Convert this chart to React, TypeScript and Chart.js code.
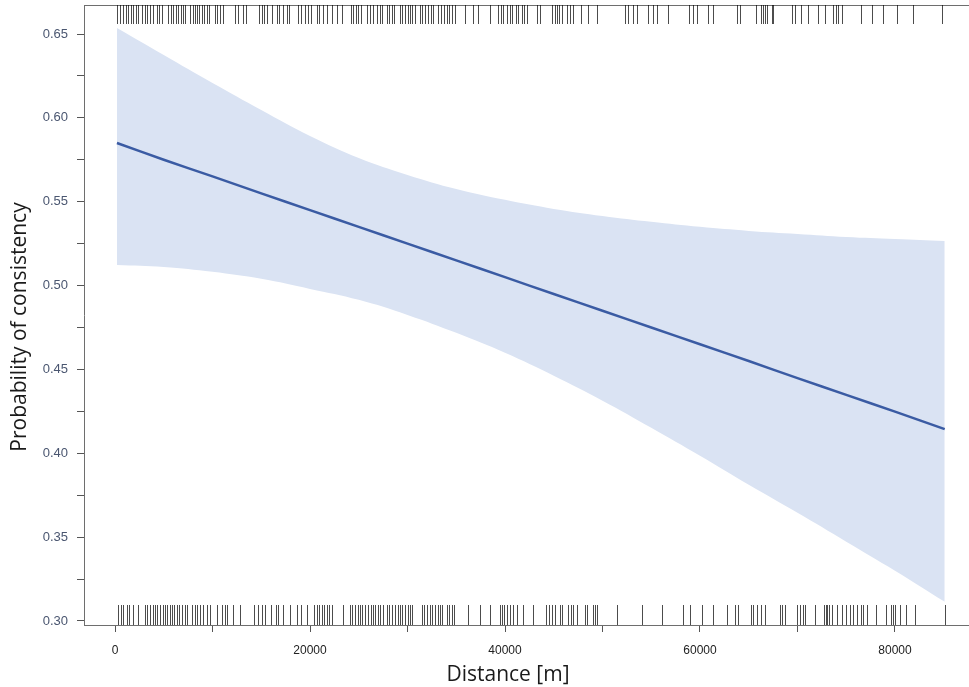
import React, { useEffect, useRef } from "react";
import { Chart, registerables } from "chart.js";

Chart.register(...registerables);

// Distance grid (m) and fitted probability with confidence band
const distances = [200, 5000, 10000, 15000, 20000, 25000, 30000, 35000, 40000, 45000, 50000, 55000, 60000, 65000, 70000, 75000, 80000, 85100];
const fitValues = [0.585, 0.575, 0.5651, 0.555, 0.545, 0.535, 0.525, 0.515, 0.505, 0.495, 0.485, 0.475, 0.465, 0.455, 0.4448, 0.4348, 0.4248, 0.4144];
const upperValues = [0.6536, 0.6375, 0.6208, 0.6047, 0.5892, 0.5761, 0.566, 0.5576, 0.5511, 0.5457, 0.5415, 0.538, 0.535, 0.5326, 0.5308, 0.529, 0.5278, 0.5266];
const lowerValues = [0.5123, 0.5111, 0.5082, 0.504, 0.498, 0.4915, 0.4825, 0.4718, 0.4599, 0.4462, 0.4313, 0.4152, 0.3985, 0.3812, 0.3645, 0.3473, 0.33, 0.3115];

// Rug observations (m): consistent (top) and inconsistent (bottom)
const rugTop = [236, 513, 790, 1128, 1364, 1610, 1877, 2154, 2390, 2738, 3077, 3313, 3590, 3928, 4277, 4544, 4790, 5467, 5713, 5979, 6256, 6492, 6769, 7005, 7179, 7692, 7969, 8205, 8441, 8646, 8892, 9128, 9405, 9672, 10256, 10492, 10769, 11046, 12308, 12646, 13159, 13436, 14800, 15046, 15282, 15559, 16072, 16585, 16851, 17262, 17610, 17877, 18800, 19046, 19487, 19826, 20072, 20687, 20954, 21364, 21713, 22287, 22738, 23251, 24205, 24441, 24687, 24954, 25230, 25815, 26154, 26492, 26841, 27179, 27415, 27867, 28102, 28379, 28646, 29231, 29467, 29744, 30021, 30256, 30492, 30769, 31282, 31518, 31795, 32072, 32410, 32646, 33159, 33436, 33774, 34021, 34256, 34533, 34872, 35897, 36749, 37262, 38462, 39313, 39590, 39826, 40174, 40513, 40749, 41097, 41364, 41713, 41949, 42226, 43251, 43590, 44790, 45128, 45303, 45569, 45815, 46328, 46667, 46944, 47795, 48544, 49405, 52307, 52646, 53097, 53569, 54697, 55148, 55559, 56749, 58903, 59313, 59662, 60851, 61364, 63764, 64103, 65744, 66226, 66431, 66667, 66903, 67354, 67518, 69405, 69744, 70328, 71108, 72133, 72820, 73672, 73949, 74185, 74533, 76482, 77610, 78738, 80236, 81815, 84790];
const rugBottom = [338, 585, 851, 1200, 1467, 1877, 2390, 3077, 3251, 3590, 3867, 4103, 4339, 4615, 4892, 5128, 5364, 5641, 5815, 6051, 6328, 6595, 6841, 7179, 7415, 7867, 8205, 8441, 8718, 9056, 9405, 9744, 10431, 10944, 11282, 11518, 12072, 12821, 14256, 14703, 15046, 15385, 15969, 16513, 16749, 17262, 17949, 18636, 19046, 19662, 20410, 20687, 20954, 21200, 21436, 21713, 21949, 22226, 23415, 24103, 24338, 24615, 24892, 25128, 25364, 25641, 25918, 26256, 26492, 26667, 26944, 27179, 27518, 27867, 28103, 28379, 28718, 28995, 29231, 29467, 29744, 30021, 30256, 30492, 31456, 31723, 31969, 32308, 32544, 32820, 33097, 33333, 33569, 34021, 34256, 34533, 34800, 36236, 37436, 38462, 39487, 39661, 39897, 40174, 40513, 40851, 41200, 41805, 42900, 44205, 44547, 44790, 45128, 45641, 45815, 46497, 46738, 46944, 47418, 48205, 48376, 48991, 49231, 49405, 51456, 54021, 56072, 58290, 58974, 60174, 61364, 62735, 63590, 63928, 65197, 65470, 65880, 66226, 66667, 68205, 68376, 68718, 69985, 70256, 70598, 70769, 71795, 72718, 72923, 73059, 73264, 73505, 74085, 74533, 74974, 75385, 75726, 76136, 76482, 76756, 77167, 78059, 79085, 79567, 79772, 80000, 80513, 81128, 82051, 85128];

const xTicks = [0, 10000, 20000, 30000, 40000, 50000, 60000, 70000, 80000];
const yTicks = [0.3, 0.325, 0.35, 0.375, 0.4, 0.425, 0.45, 0.475, 0.5, 0.525, 0.55, 0.575, 0.6, 0.625, 0.65];

const xTitle = "Distance [m]";
const yTitle = "Probability of consistency";

const rugPlugin = {
  id: "rugFrame",
  afterDatasetsDraw(chart: any) {
    const { ctx, chartArea, scales } = chart;
    const xs = scales.x;
    ctx.save();
    // top frame line
    ctx.strokeStyle = "#6e6e6e";
    ctx.lineWidth = 1;
    ctx.beginPath();
    ctx.moveTo(chartArea.left, chartArea.top + 0.5);
    ctx.lineTo(chartArea.right, chartArea.top + 0.5);
    ctx.stroke();
    // rugs
    ctx.strokeStyle = "rgba(0,0,0,0.7)";
    ctx.lineWidth = 1;
    const drawRug = (vals: number[], y0: number, y1: number) => {
      for (const v of vals) {
        const px = Math.round(xs.getPixelForValue(v)) + 0.5;
        ctx.beginPath();
        ctx.moveTo(px, y0);
        ctx.lineTo(px, y1);
        ctx.stroke();
      }
    };
    drawRug(rugTop, chartArea.top, chartArea.top + 19);
    drawRug(rugBottom, chartArea.bottom - 20, chartArea.bottom);
    ctx.restore();
  },
  afterDraw(chart: any) {
    const { ctx, chartArea } = chart;
    ctx.save();
    ctx.fillStyle = "#1a1a1a";
    ctx.textAlign = "center";
    ctx.textBaseline = "middle";
    ctx.font = "21px 'Open Sans', 'Noto Sans', sans-serif";
    // x-axis title
    ctx.fillText(xTitle, chartArea.left + 424, chartArea.bottom + 50);
    // y-axis title
    ctx.translate(chartArea.left - 64, chartArea.top + 322);
    ctx.rotate(-Math.PI / 2);
    ctx.fillText(yTitle, 0, 0);
    ctx.restore();
  },
};

export default function App() {
  const ref = useRef<HTMLCanvasElement | null>(null);

  useEffect(() => {
    document.body.style.margin = "0";
    const canvas = ref.current;
    if (!canvas) return;
    const toPts = (ys: number[]) => distances.map((d, i) => ({ x: d, y: ys[i] }));
    const chart = new Chart(canvas, {
      type: "line",
      data: {
        datasets: [
          {
            label: "fit",
            data: toPts(fitValues),
            borderColor: "#3a5ba3",
            borderWidth: 2.5,
            pointRadius: 0,
            fill: false,
            tension: 0.3,
          },
          {
            label: "upper",
            data: toPts(upperValues),
            borderWidth: 0,
            borderColor: "rgba(0,0,0,0)",
            backgroundColor: "#dae3f3",
            pointRadius: 0,
            fill: "+1",
            tension: 0.4,
          },
          {
            label: "lower",
            data: toPts(lowerValues),
            borderWidth: 0,
            borderColor: "rgba(0,0,0,0)",
            pointRadius: 0,
            fill: false,
            tension: 0.4,
          },
        ],
      },
      options: {
        animation: false,
        responsive: false,
        devicePixelRatio: 1,
        layout: { padding: { top: 5, right: 0, left: 0, bottom: 0 } },
        plugins: {
          legend: { display: false },
          tooltip: { enabled: false },
        },
        scales: {
          x: {
            type: "linear",
            min: -3180,
            max: 87590,
            afterBuildTicks: (s: any) => {
              s.ticks = xTicks.map((v) => ({ value: v }));
            },
            afterFit: (s: any) => {
              s.height = 62;
              s.paddingLeft = 0;
              s.paddingRight = 0;
            },
            ticks: {
              autoSkip: false,
              maxRotation: 0,
              padding: 11,
              color: "#222222",
              font: { family: "'Liberation Sans', Arial", size: 12 },
              callback: (v: any) => (Number(v) % 20000 === 0 ? String(v) : ""),
            },
            grid: {
              display: true,
              drawOnChartArea: false,
              drawTicks: true,
              tickLength: 7,
              tickColor: "#555555",
            },
            border: { display: true, color: "#6e6e6e", width: 1 },
            title: { display: false },
          },
          y: {
            type: "linear",
            min: 0.2976,
            max: 0.6673,
            afterBuildTicks: (s: any) => {
              s.ticks = yTicks.map((v) => ({ value: v }));
            },
            afterFit: (s: any) => {
              s.width = 84;
              s.paddingTop = 0;
              s.paddingBottom = 0;
            },
            ticks: {
              autoSkip: false,
              padding: 9,
              color: "#4a5670",
              font: { family: "'Liberation Sans', Arial", size: 13 },
              callback: (v: any) => {
                const n = Math.round(Number(v) * 1000);
                return n % 50 === 0 ? Number(v).toFixed(2) : "";
              },
            },
            grid: {
              display: true,
              drawOnChartArea: false,
              drawTicks: true,
              tickLength: 7,
              tickColor: "#555555",
            },
            border: { display: true, color: "#6e6e6e", width: 1 },
            title: { display: false },
          },
        },
      },
      plugins: [rugPlugin],
    } as any);
    return () => chart.destroy();
  }, []);

  return (
    <canvas ref={ref} width={969} height={687} style={{ display: "block" }} />
  );
}
